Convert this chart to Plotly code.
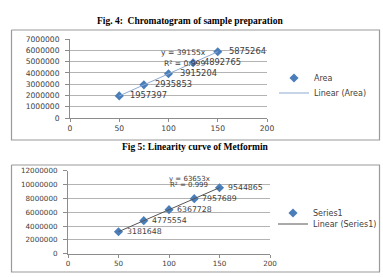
import plotly.graph_objects as go

W, H = 383, 277

conc = [50, 75, 100, 125, 150]
area1 = [1957397, 2935853, 3915204, 4892765, 5875264]
area2 = [3181648, 4775554, 6367728, 7957689, 9544865]
slope1 = 39155
slope2 = 63653
r2_1 = "0.999"
r2_2 = "0.999"
xticks = [0, 50, 100, 150, 200]
yticks1 = [0, 1000000, 2000000, 3000000, 4000000, 5000000, 6000000, 7000000]
yticks2 = [0, 2000000, 4000000, 6000000, 8000000, 10000000, 12000000]

caption1 = "Fig. 4:  Chromatogram of sample preparation"
caption2 = "Fig 5: Linearity curve of Metformin"

def px(x):
    return x / W

def py(y):
    return 1 - y / H

BLUE = "#4A7EBB"
GRID = "#B3B3B3"
AXIS = "#8C8C8C"
TXT = "#404040"
FONT = "DejaVu Sans"
FRAME = "#9A9A9A"

fig = go.Figure()

trend_x = [conc[0], conc[-1]]

fig.add_trace(go.Scatter(
    x=conc, y=area1, mode="markers", name="Area",
    marker=dict(symbol="diamond", size=7, color=BLUE),
    xaxis="x", yaxis="y", legend="legend"))
fig.add_trace(go.Scatter(
    x=trend_x, y=[slope1 * v for v in trend_x], mode="lines", name="Linear (Area)",
    line=dict(color="#8EA9CF", width=1),
    xaxis="x", yaxis="y", legend="legend2"))

fig.add_trace(go.Scatter(
    x=conc, y=area2, mode="markers", name="Series1",
    marker=dict(symbol="diamond", size=7, color=BLUE),
    xaxis="x2", yaxis="y2", legend="legend3"))
fig.add_trace(go.Scatter(
    x=trend_x, y=[slope2 * v for v in trend_x], mode="lines", name="Linear (Series1)",
    line=dict(color="#555555", width=1),
    xaxis="x2", yaxis="y2", legend="legend4"))

# panel frames drawn on a full-page helper axis in pixel units
frame_x, frame_y = [], []
for (top, bottom) in [(30, 140), (165, 272)]:
    frame_x += [11.5, 379.5, 379.5, 11.5, 11.5, None]
    frame_y += [top, top, bottom, bottom, top, None]
fig.add_trace(go.Scatter(
    x=frame_x, y=frame_y, mode="lines", showlegend=False, hoverinfo="skip",
    line=dict(color=FRAME, width=1.2), xaxis="x3", yaxis="y3"))

axfont1 = dict(family=FONT, size=7.6, color=TXT)
axfont2 = dict(family=FONT, size=7.2, color=TXT)

def xcommon(f):
    return dict(range=[0, 200], tickvals=xticks, showgrid=False, showline=True,
                linecolor=AXIS, linewidth=1, ticks="outside", ticklen=3,
                tickcolor=AXIS, tickfont=f, zeroline=False, fixedrange=True)

def ycommon(f):
    return dict(showgrid=True, gridcolor=GRID, gridwidth=1, showline=True,
                linecolor=AXIS, linewidth=1, ticks="outside", ticklen=4,
                tickcolor=AXIS, tickfont=f, tickformat="d", zeroline=False,
                fixedrange=True, ticklabelstandoff=4)

legfont = dict(family=FONT, size=8, color=TXT)

def leg(xp, yc):
    return dict(x=px(xp), y=py(yc), xanchor="left", yanchor="middle",
                font=legfont, bgcolor="rgba(0,0,0,0)", itemwidth=30,
                borderwidth=0)

hidden = dict(visible=False, showgrid=False, zeroline=False, fixedrange=True)

fig.update_layout(
    width=W, height=H, margin=dict(l=0, r=0, t=0, b=0, autoexpand=False),
    paper_bgcolor="white", plot_bgcolor="rgba(0,0,0,0)",
    xaxis=dict(domain=[px(70), px(267)], anchor="y", **xcommon(axfont1)),
    yaxis=dict(domain=[py(118), py(39)], anchor="x", range=[0, 7000000],
               tickvals=yticks1, **ycommon(axfont1)),
    xaxis2=dict(domain=[px(68), px(270)], anchor="y2", **xcommon(axfont2)),
    yaxis2=dict(domain=[py(253.7), py(170.7)], anchor="x2", range=[0, 12000000],
                tickvals=yticks2, **ycommon(axfont2)),
    xaxis3=dict(domain=[0, 1], range=[0, W], anchor="y3", **hidden),
    yaxis3=dict(domain=[0, 1], range=[H, 0], anchor="x3", **hidden),
    legend=leg(274, 78),
    legend2=leg(274, 93),
    legend3=leg(273, 213),
    legend4=leg(273, 224),
    showlegend=True,
)

ann = []
# data labels, anchored to data coordinates
for xv, yv in zip(conc, area1):
    ann.append(dict(text=str(yv), x=xv, y=yv, xref="x", yref="y", xanchor="left",
                    xshift=9, yshift=1, showarrow=False,
                    font=dict(family=FONT, size=8.3, color=TXT)))
for xv, yv in zip(conc, area2):
    ann.append(dict(text=str(yv), x=xv, y=yv, xref="x2", yref="y2", xanchor="left",
                    xshift=6, yshift=0, showarrow=False,
                    font=dict(family=FONT, size=7.8, color=TXT)))

ann.append(dict(text="<b>" + caption1 + "</b>", x=px(190), y=py(14), xref="paper", yref="paper",
                showarrow=False, font=dict(family="Liberation Serif", size=9.5, color="black")))
ann.append(dict(text="<b>" + caption2 + "</b>", x=px(195), y=py(147), xref="paper", yref="paper",
                showarrow=False, font=dict(family="Liberation Serif", size=9.5, color="black")))
eqfont1 = dict(family=FONT, size=7.6, color=TXT)
eqfont2 = dict(family=FONT, size=7, color=TXT)
ann.append(dict(text="y = %dx" % slope1, x=px(159), y=py(46), xref="paper", yref="paper",
                xanchor="left", showarrow=False, font=eqfont1))
ann.append(dict(text="R² = " + r2_1, x=px(162), y=py(57), xref="paper", yref="paper",
                xanchor="left", showarrow=False, font=eqfont1))
ann.append(dict(text="y = %dx" % slope2, x=px(167), y=py(178.5), xref="paper", yref="paper",
                xanchor="left", showarrow=False, font=eqfont2))
ann.append(dict(text="R² = " + r2_2, x=px(168), y=py(190.5), xref="paper", yref="paper",
                xanchor="left", showarrow=False, font=eqfont2))
fig.update_layout(annotations=ann)

fig.write_html("out.html")
